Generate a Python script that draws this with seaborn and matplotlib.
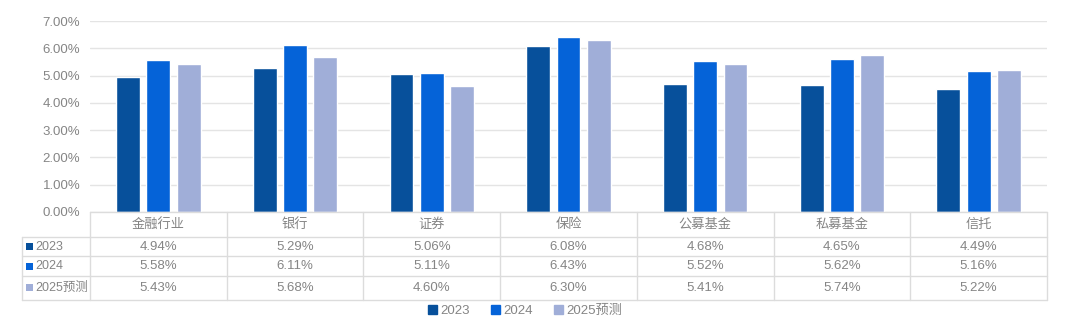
import matplotlib
matplotlib.use("Agg")
import matplotlib.pyplot as plt
import matplotlib.patches as mpatches
from matplotlib.lines import Line2D
from matplotlib.ticker import FuncFormatter
import seaborn as sns
import pandas as pd

# Data
categories = ["金融行业", "银行", "证券", "保险", "公募基金", "私募基金", "信托"]
series_names = ["2023", "2024", "2025预测"]
values_2023 = [4.94, 5.29, 5.06, 6.08, 4.68, 4.65, 4.49]
values_2024 = [5.58, 6.11, 5.11, 6.43, 5.52, 5.62, 5.16]
values_2025 = [5.43, 5.68, 4.60, 6.30, 5.41, 5.74, 5.22]
y_ticks = [0, 1, 2, 3, 4, 5, 6, 7]

colors = ["#07509B", "#0563D8", "#A0AED8"]
text_color = "#858585"
grid_color = "#E4E4E4"
border_color = "#DCDCDC"

sns.set_theme(style="white")
plt.rcParams["font.family"] = ["Liberation Sans", "Noto Sans CJK SC", "DejaVu Sans"]

all_values = [values_2023, values_2024, values_2025]
df = pd.DataFrame({
    "category": categories * 3,
    "series": sum([[s] * len(categories) for s in series_names], []),
    "value": values_2023 + values_2024 + values_2025,
})

W, H = 1080, 322
fig = plt.figure(figsize=(W / 100, H / 100), dpi=100)
fig.patch.set_facecolor("white")

def fx(px):
    return px / W

def fy(py):
    return 1 - py / H

ax_left, ax_right, ax_top, ax_bottom = 90, 1047, 21, 212
ax = fig.add_axes([fx(ax_left), fy(ax_bottom), fx(ax_right - ax_left), (ax_bottom - ax_top) / H])

sns.barplot(data=df, x="category", y="value", hue="series", order=categories,
            hue_order=series_names, palette=colors, width=0.665, gap=0.21,
            saturation=1, legend=False, ax=ax)

ax.set_xlim(-0.5, len(categories) - 0.5)
ax.set_ylim(0, 7)
ax.set_yticks(y_ticks)
ax.yaxis.set_major_formatter(FuncFormatter(lambda v, p: f"{v:.2f}%"))
ax.tick_params(axis="y", colors=text_color, labelsize=9.5, length=0, pad=7)
ax.set_xticks([])
ax.set_xlabel("")
ax.set_ylabel("")
ax.grid(axis="y", color=grid_color, linewidth=1)
ax.set_axisbelow(True)
for s in ax.spines.values():
    s.set_visible(False)

# Data table below the plot
row_edges = [212, 237, 256, 276, 300]
label_left = 22
cat_w = (ax_right - ax_left) / len(categories)

def hline(x0, x1, y):
    fig.add_artist(Line2D([fx(x0), fx(x1)], [fy(y), fy(y)], color=border_color, lw=1))

def vline(x, y0, y1):
    fig.add_artist(Line2D([fx(x), fx(x)], [fy(y0), fy(y1)], color=border_color, lw=1))

hline(ax_left, ax_right, row_edges[0])
for y in row_edges[1:]:
    hline(label_left, ax_right, y)
vline(label_left, row_edges[1], row_edges[-1])
for i in range(len(categories) + 1):
    vline(ax_left + i * cat_w, row_edges[0], row_edges[-1])

for i, cat in enumerate(categories):
    cx = ax_left + (i + 0.5) * cat_w
    fig.text(fx(cx), fy((row_edges[0] + row_edges[1]) / 2), cat, ha="center", va="center",
             fontsize=9.5, color=text_color)
    for r, vals in enumerate(all_values):
        cy = (row_edges[r + 1] + row_edges[r + 2]) / 2
        fig.text(fx(cx), fy(cy), f"{vals[i]:.2f}%", ha="center", va="center",
                 fontsize=9.5, color=text_color)

for r, name in enumerate(series_names):
    cy = (row_edges[r + 1] + row_edges[r + 2]) / 2
    sq_y = cy - 1 if r == 2 else cy
    fig.add_artist(mpatches.Rectangle((fx(26), fy(sq_y + 3.5)), fx(7), 7 / H,
                                      color=colors[r], lw=0))
    fig.text(fx(35.5), fy(cy), name, ha="left", va="center", fontsize=9, color=text_color)

# Legend
handles = [mpatches.Patch(color=c, label=n) for c, n in zip(colors, series_names)]
fig.legend(handles=handles, loc="center", bbox_to_anchor=(fx(525), fy(311)), ncol=3,
           frameon=False, handlelength=0.7, handleheight=0.7, handletextpad=0.25,
           columnspacing=1.6, fontsize=9.5, labelcolor=text_color)

fig.savefig("out.png", dpi=100, facecolor="white")
